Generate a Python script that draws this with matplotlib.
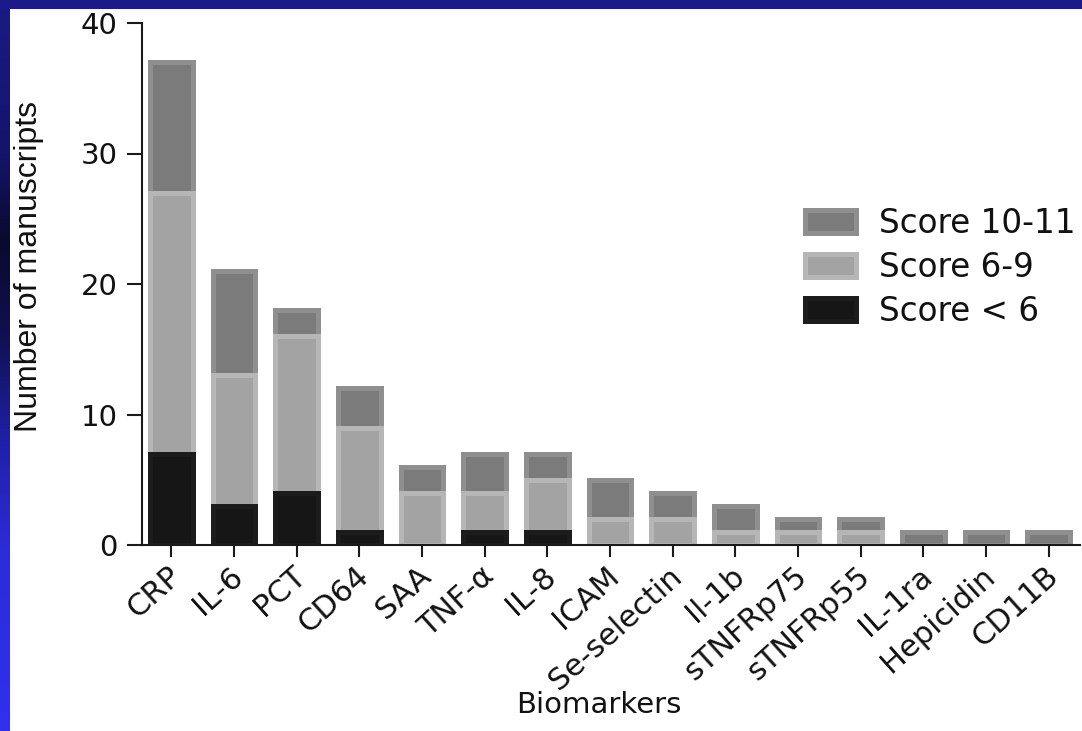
import numpy as np
import matplotlib
matplotlib.use("Agg")
import matplotlib.pyplot as plt
from matplotlib.colors import LinearSegmentedColormap
import matplotlib.transforms as mtransforms

# ---- data ----
biomarkers = ["CRP", "IL-6", "PCT", "CD64", "SAA", "TNF-\u03b1", "IL-8", "ICAM",
              "Se-selectin", "Il-1b", "sTNFRp75", "sTNFRp55", "IL-1ra", "Hepicidin", "CD11B"]
score_lt6 = [7, 3, 4, 1, 0, 1, 1, 0, 0, 0, 0, 0, 0, 0, 0]
score_6_9 = [20, 10, 12, 8, 4, 3, 4, 2, 2, 1, 1, 1, 0, 0, 0]
score_10_11 = [10, 8, 2, 3, 2, 3, 2, 3, 2, 2, 1, 1, 1, 1, 1]
yticks = [0, 10, 20, 30, 40]

W, H = 1082, 731
fig = plt.figure(figsize=(W / 100, H / 100), dpi=100)
fig.patch.set_facecolor("white")

# ---- blue frame (slide background) ----
top_ax = fig.add_axes([0, 1 - 9 / H, 1, 9 / H])
top_ax.set_axis_off()
top_ax.add_patch(plt.Rectangle((0, 0), 1, 1, transform=top_ax.transAxes, color="#1a1a88"))
left_ax = fig.add_axes([0, 0, 10 / W, 1 - 9 / H])
left_ax.set_axis_off()
cmap = LinearSegmentedColormap.from_list(
    "frame",
    [(0.0, "#1a1a84"), (0.2, "#14146a"), (0.32, "#0a0a2e"), (0.45, "#101050"),
     (0.6, "#2020a8"), (0.75, "#2c2cd8"), (1.0, "#3030ee")])
grad = np.linspace(0, 1, 256).reshape(-1, 1)
left_ax.imshow(grad, aspect="auto", cmap=cmap, extent=[0, 1, 1, 0])

# ---- main axes ----
ax = fig.add_axes([142 / W, (H - 545) / H, 938 / W, 522 / H])
x = np.arange(len(biomarkers))
bw = 0.68
elw = 3.6  # pt

lo = np.array(score_lt6)
mid = np.array(score_6_9)
hi = np.array(score_10_11)

def lws(v):
    return [elw if val > 0 else 0 for val in v]

b_hi = ax.bar(x, hi, bw, bottom=lo + mid, color="#7b7b7b", edgecolor="#8f8f8f",
              linewidth=lws(hi), zorder=1.2, label="Score 10-11")
b_mid = ax.bar(x, mid, bw, bottom=lo, color="#a3a3a3", edgecolor="#b6b6b6",
               linewidth=lws(mid), zorder=1.4, label="Score 6-9")
b_lo = ax.bar(x, lo, bw, color="#161616", edgecolor="#1c1c1c",
              linewidth=lws(lo), zorder=1.6, label="Score < 6")

ax.set_xlim(-0.47, 14.50)
ax.set_ylim(0, 40)
ax.set_yticks(yticks)
ax.set_xticks(x)
ax.set_xticklabels(biomarkers)

for s in ["top", "right"]:
    ax.spines[s].set_visible(False)
for s in ["left", "bottom"]:
    ax.spines[s].set_linewidth(1.5)
    ax.spines[s].set_color("#1a1a1a")

ax.tick_params(axis="y", length=10.5, width=1.5, color="#1a1a1a", pad=7,
               labelsize=21, labelcolor="#111111")
ax.tick_params(axis="x", length=8.5, width=1.5, color="#1a1a1a", pad=11,
               labelsize=22, labelcolor="#111111")
for lab in ax.get_yticklabels():
    lab.set_fontfamily("DejaVu Sans")
offset = mtransforms.ScaledTranslation(5 / 100, 0, fig.dpi_scale_trans)
for lab in ax.get_xticklabels():
    lab.set_fontfamily("DejaVu Sans")
    lab.set_rotation(42)
    lab.set_ha("right")
    lab.set_va("center")
    lab.set_rotation_mode("anchor")
    lab.set_transform(lab.get_transform() + offset)

ax.set_xlabel("Biomarkers", fontsize=21, fontfamily="DejaVu Sans", color="#111111", va="center")
ax.xaxis.set_label_coords((599 - 142) / 938, (545 - 705) / 522)
ax.set_ylabel("Number of manuscripts", fontsize=23, fontfamily="Liberation Sans",
              color="#111111", va="center")
ax.yaxis.set_label_coords((29 - 142) / 938, (545 - 266) / 522)

leg = ax.legend(handles=[b_hi, b_mid, b_lo], loc="upper left",
                bbox_to_anchor=(805 / W, 1 - 207 / H), bbox_transform=fig.transFigure,
                frameon=False, prop={"family": "DejaVu Sans", "size": 23.5},
                handlelength=1.57, handleheight=0.7, handletextpad=0.7,
                labelspacing=0.33, borderpad=0, borderaxespad=0)
for t in leg.get_texts():
    t.set_color("#111111")

fig.savefig("out.png", dpi=100, facecolor=fig.get_facecolor())
